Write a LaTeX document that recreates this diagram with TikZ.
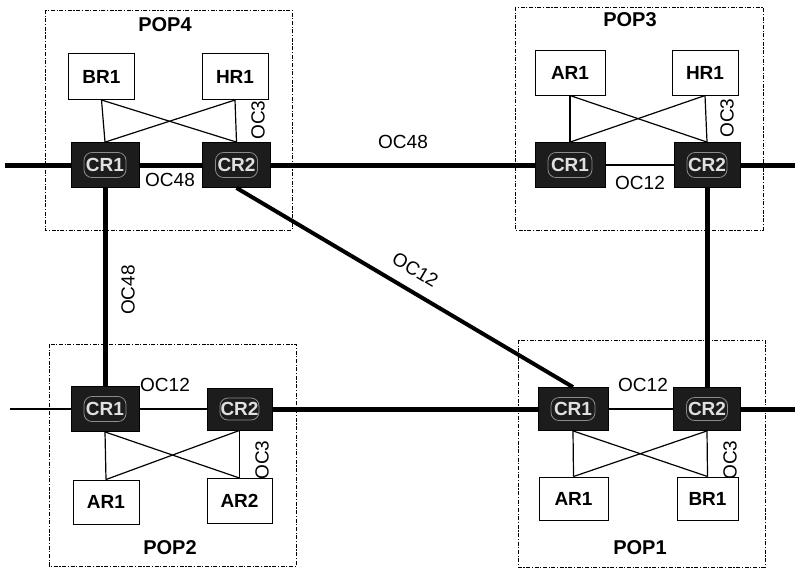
\documentclass[tikz,border=0pt]{standalone}
\usepackage{fontspec}
\setmainfont{Liberation Sans}
\usetikzlibrary{positioning}
\usetikzlibrary{calc}
\definecolor{router-dark}{HTML}{1C1C1C}
\colorlet{core}{router-dark}
% four links between an upper pair and a lower pair of routers
\newcommand{\tikzcrossconnect}[4]{%
\draw[crossline] (#1.south) -- (#3.north);
\draw[crossline] (#1.south) -- (#4.north);
\draw[crossline] (#2.south) -- (#3.north);
\draw[crossline] (#2.south) -- (#4.north);
}
\newcommand{\tikzpop}[4]{%
\draw[popbox] (#1,#2) rectangle (#3,#4);
}
\begin{document}
\begin{tikzpicture}[x=0.5pt, y=-0.5pt,
  font=\fontsize{9.5}{11}\selectfont,
  popbox/.style={line width=0.5pt, dash pattern=on 2pt off 0.8pt on 0.6pt off 0.8pt},
  edgebox/.style={draw, fill=white, line width=0.5pt, inner sep=0pt, minimum width=33pt, minimum height=23pt, font=\fontsize{9.5}{11}\selectfont\bfseries},
  corebox/.style={draw=black, fill=core, text=white!88!black, inner sep=0pt, minimum width=34pt, minimum height=22.5pt, font=\fontsize{9.5}{11}\selectfont\bfseries,
    path picture={\draw[white!55!black, line width=0.4pt, rounded corners=4pt]
      ([shift={(6.5pt,-5pt)}]path picture bounding box.north west) rectangle
      ([shift={(-6.5pt,5pt)}]path picture bounding box.south east);}},
  poplabel/.style={font=\fontsize{10}{12}\selectfont\bfseries},
  rate/.style={inner sep=1pt},
  trunk/.style={line width=2.5pt},
  link/.style={line width=1.3pt},
  crossline/.style={line width=0.6pt}]
\useasboundingbox (0,0) rectangle (795,570);
% pop sites
\tikzpop{45}{10}{292}{230}
\tikzpop{515}{7}{763}{230}
\tikzpop{49}{344}{296}{566}
\tikzpop{518}{340}{765}{567}
\node[poplabel] (pop4) at (165,25) {POP4};
\node[poplabel] (pop3) at (630,20) {POP3};
\node[poplabel] (pop2) at (170,548) {POP2};
\node[poplabel] (pop1) at (640,548) {POP1};
% POP4
\node[edgebox] (p4br1) at (101.5,76.5) {BR1};
\node[edgebox] (p4hr1) at (235,76.5) {HR1};
\node[corebox] (p4cr1) at (105,165) {CR1};
\node[corebox] (p4cr2) at (236.5,165) {CR2};
% POP3
\node[edgebox, minimum width=35pt, minimum height=22.5pt] (p3ar1) at (570,72.5) {AR1};
\node[edgebox, minimum height=22.5pt] (p3hr1) at (705,72.5) {HR1};
\node[corebox, minimum width=35pt] (p3cr1) at (570,165) {CR1};
\node[corebox, minimum width=33pt] (p3cr2) at (707,165) {CR2};
% POP2
\node[corebox] (p2cr1) at (105,409) {CR1};
\node[corebox, minimum width=32.5pt, minimum height=21pt] (p2cr2) at (239.5,409) {CR2};
\node[edgebox, minimum height=22pt] (p2ar1) at (106,502) {AR1};
\node[edgebox, minimum width=32.5pt, minimum height=22.5pt] (p2ar2) at (239.5,501) {AR2};
% POP1
\node[corebox, minimum width=35pt, minimum height=21.5pt] (p1cr1) at (573,409) {CR1};
\node[corebox, minimum width=33.5pt, minimum height=21.5pt] (p1cr2) at (707,409) {CR2};
\node[edgebox, minimum width=34.5pt, minimum height=21.5pt] (p1ar1) at (573.5,498.5) {AR1};
\node[edgebox, minimum width=30.5pt, minimum height=21.5pt] (p1br1) at (707.5,498.5) {BR1};
% access links
\tikzcrossconnect{p4br1}{p4hr1}{p4cr1}{p4cr2}
\tikzcrossconnect{p3ar1}{p3hr1}{p3cr1}{p3cr2}
\tikzcrossconnect{p2cr1}{p2cr2}{p2ar1}{p2ar2}
\tikzcrossconnect{p1cr1}{p1cr2}{p1ar1}{p1br1}
% backbone
\coordinate (westtop) at (5,165);
\coordinate (easttop) at (795,165);
\coordinate (westbot) at (10,409);
\coordinate (eastbot) at (795,409);
\draw[trunk] (westtop) -- (p4cr1);
\draw[trunk] (p4cr1) -- (p4cr2);
\draw[trunk] (p4cr2) -- (p3cr1);
\draw[link] (p3cr1) -- (p3cr2);
\draw[trunk] (p3cr2) -- (easttop);
\draw[link] (westbot) -- (p2cr1);
\draw[link] (p2cr1) -- (p2cr2);
\draw[trunk] (p2cr2) -- (p1cr1);
\draw[link] (p1cr1) -- (p1cr2);
\draw[trunk] (p1cr2) -- (eastbot);
\draw[trunk] (p4cr1) -- (p2cr1);
\draw[trunk] (p3cr2) -- (p1cr2);
\draw[line width=2pt] (p4cr2.south) -- (p1cr1.north)
  node[rate, sloped, above=5pt, pos=0.5] (oc12diag) {OC12};
% line rates
\node[rate] (p4oc48) at (170,180) {OC48};
\node[rate, rotate=90] (p4oc3) at (258,120) {OC3};
\node[rate] (topoc48) at (403,142) {OC48};
\node[rate] (p3oc12) at (640,183) {OC12};
\node[rate, rotate=90] (p3oc3) at (727,118) {OC3};
\node[rate, rotate=90] (leftoc48) at (128,290) {OC48};
\node[rate] (p2oc12) at (165,385) {OC12};
\node[rate, rotate=90] (p2oc3) at (262,460) {OC3};
\node[rate] (p1oc12) at (643,385) {OC12};
\node[rate, rotate=90] (p1oc3) at (730,460) {OC3};
\end{tikzpicture}
\end{document}
